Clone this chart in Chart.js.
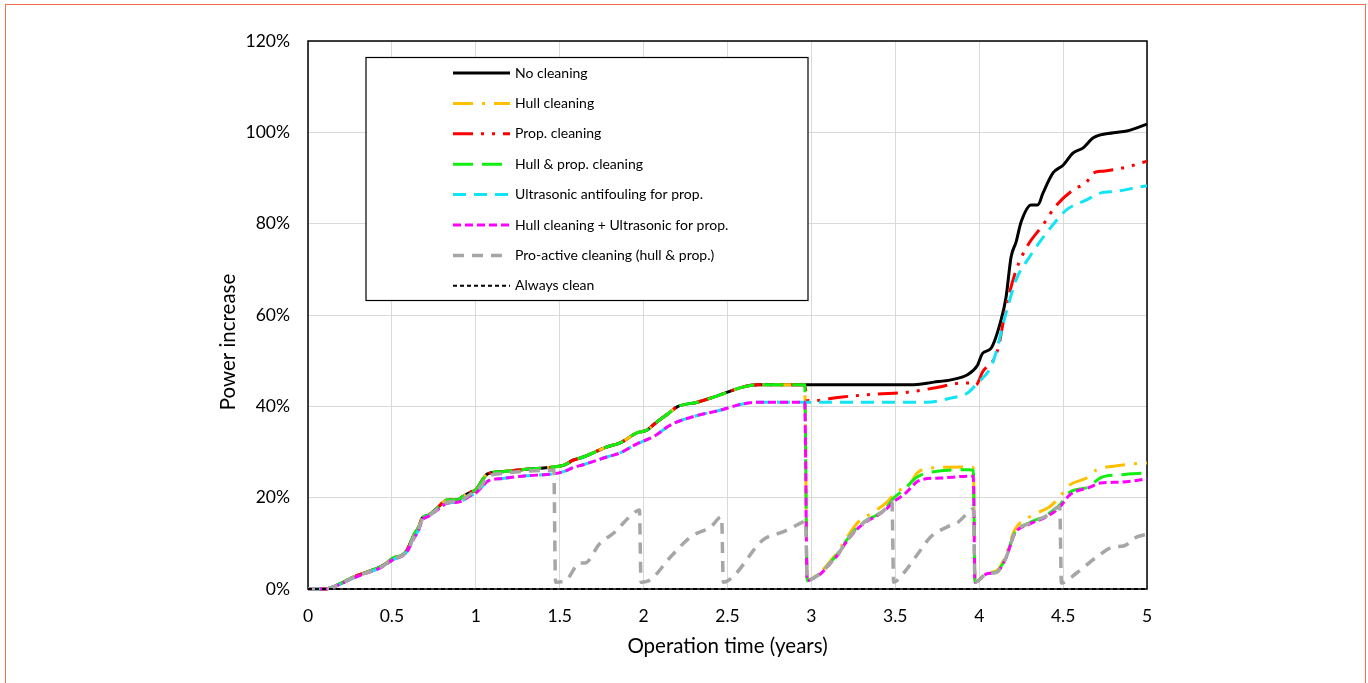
<!DOCTYPE html>
<html>
<head>
<meta charset="utf-8">
<script src="https://cdn.jsdelivr.net/npm/chart.js@4.4.1/dist/chart.umd.min.js"></script>
<style>
  html, body { margin: 0; padding: 0; background: #fff; overflow: hidden; }
  #wrap { position: relative; width: 1368px; height: 683px; }
  #frame { position: absolute; left: 5px; top: 4px; width: 1361px; height: 700px; border: 1.5px solid #f0704f; box-sizing: border-box; }
  canvas { position: absolute; left: 0; top: 0; }
</style>
</head>
<body>
<div id="wrap"><div id="frame"></div><canvas id="chart" width="1368" height="683"></canvas></div>
<script>
// tick labels
const xTickLabels = ['0', '0.5', '1', '1.5', '2', '2.5', '3', '3.5', '4', '4.5', '5'];
const yTickLabels = ['0%', '20%', '40%', '60%', '80%', '100%', '120%'];

const seriesNames = [
    'No cleaning', 'Hull cleaning', 'Prop. cleaning', 'Hull & prop. cleaning',
    'Ultrasonic antifouling for prop.', 'Hull cleaning + Ultrasonic for prop.',
    'Pro-active cleaning (hull & prop.)', 'Always clean'
];

// common growth up to the 3 year cleaning (years / % power increase)
const growthT = [0, 0.1, 0.19, 0.27, 0.35, 0.44, 0.51, 0.56, 0.59, 0.63, 0.66, 0.68, 0.72, 0.77, 0.83, 0.89, 0.92, 0.97, 1.0, 1.04,
    1.07, 1.16, 1.3, 1.46, 1.53, 1.58, 1.64, 1.78, 1.86, 1.96, 2.02, 2.07, 2.15, 2.2, 2.32, 2.44, 2.59, 2.68, 2.96];
const growthV = [0, 0, 1.1, 2.6, 3.7, 5.0, 6.8, 7.4, 8.5, 11.8, 13.6, 15.5, 16.2, 17.7, 19.5, 19.5, 20.2, 21.2, 21.7, 23.9,
    25.2, 25.7, 26.2, 26.7, 27.2, 28.2, 28.9, 31.1, 32.0, 34.2, 34.8, 36.3, 38.5, 39.9, 40.9, 42.3, 44.2, 44.7, 44.7];
// same times, with ultrasonic on the propeller
const ultraV = [0, 0, 1.0, 2.4, 3.5, 4.8, 6.5, 7.2, 8.2, 11.0, 13.0, 15.0, 16.0, 17.3, 18.8, 19.0, 19.3, 20.5, 21.0, 22.5,
    23.6, 24.2, 24.8, 25.2, 25.8, 26.6, 27.2, 28.9, 29.8, 31.8, 32.7, 33.6, 35.7, 36.6, 38.0, 39.0, 40.5, 40.9, 40.9];

// after 3 years
const noCleanT = [3.59, 3.73, 3.83, 3.93, 3.99, 4.02, 4.07, 4.13, 4.16, 4.19, 4.22, 4.25, 4.31, 4.35, 4.38, 4.44, 4.5, 4.56, 4.62, 4.68, 4.8, 4.88, 5.0];
const noCleanV = [44.7, 45.3, 45.8, 46.9, 49.0, 51.6, 52.7, 58.9, 63.9, 72.7, 76.0, 80.4, 84.1, 84.1, 86.7, 91.1, 92.8, 95.5, 96.6, 98.8, 99.9, 100.3, 101.8];

const hullT = [2.975, 3.01, 3.06, 3.11, 3.16, 3.21, 3.28, 3.36, 3.45, 3.5, 3.59, 3.63, 3.71, 3.94, 3.965, 3.975, 4.05, 4.1, 4.16, 4.21,
    4.32, 4.42, 4.48, 4.54, 4.64, 4.7, 4.8, 4.92, 5.0];
const hullV = [1.8, 2.5, 3.9, 6.0, 8.3, 11.2, 14.7, 16.6, 19.0, 21.0, 23.2, 25.4, 26.5, 26.7, 26.6, 1.5, 3.6, 3.9, 7.5, 12.8,
    16.2, 18.0, 20.2, 22.8, 24.3, 26.1, 26.9, 27.4, 27.6];

const propT = [2.975, 3.0, 3.17, 3.39, 3.55, 3.73, 3.9, 3.96, 3.98, 4.02, 4.11, 4.16, 4.22, 4.29, 4.38, 4.45, 4.56, 4.64, 4.68, 4.74, 4.88, 5.0];
const propV = [41.4, 41.2, 42.0, 42.7, 43.0, 44.0, 45.1, 45.1, 44.7, 47.5, 52.3, 61.7, 69.8, 75.3, 79.7, 83.6, 87.4, 89.1, 91.1, 91.5, 92.4, 93.7];

const bothT = [2.975, 3.01, 3.06, 3.11, 3.16, 3.21, 3.27, 3.33, 3.39, 3.45, 3.49, 3.55, 3.63, 3.71, 3.94, 3.965, 3.975, 4.05, 4.1, 4.16,
    4.21, 4.3, 4.4, 4.48, 4.54, 4.65, 4.72, 4.84, 5.0];
const bothV = [1.8, 2.4, 3.7, 5.7, 7.9, 10.7, 13.4, 15.1, 16.2, 18.0, 19.9, 21.7, 24.5, 25.6, 26.1, 26.0, 1.5, 3.5, 3.7, 7.0,
    12.2, 14.5, 16.2, 18.4, 21.2, 22.3, 24.3, 25.0, 25.4];

const ultraLateT = [3.0, 3.69, 3.83, 3.93, 3.98, 4.08, 4.16, 4.22, 4.3, 4.4, 4.52, 4.64, 4.72, 4.82, 4.95, 5.0];
const ultraLateV = [40.9, 40.9, 41.8, 42.9, 44.7, 49.5, 60.4, 67.7, 72.7, 77.9, 83.0, 85.2, 86.7, 87.1, 88.0, 88.3];

const hullUltraT = [2.975, 3.01, 3.06, 3.11, 3.16, 3.21, 3.27, 3.33, 3.39, 3.45, 3.49, 3.55, 3.65, 3.77, 3.94, 3.965, 3.975, 4.05, 4.1, 4.16,
    4.21, 4.3, 4.4, 4.48, 4.54, 4.66, 4.72, 4.84, 5.0];
const hullUltraV = [1.8, 2.3, 3.5, 5.5, 7.6, 10.4, 13.0, 14.8, 16.0, 17.6, 19.1, 20.6, 23.9, 24.3, 24.7, 24.7, 1.5, 3.4, 3.6, 6.8,
    12.0, 14.2, 15.8, 17.9, 20.6, 22.3, 23.2, 23.4, 24.1];

// pro-active: cleaned every half year from 1.5 years
const proT = [0, 0.1, 0.19, 0.27, 0.35, 0.44, 0.51, 0.56, 0.59, 0.63, 0.66, 0.68, 0.72, 0.77, 0.83, 0.89, 0.92, 0.97, 1.0, 1.04,
    1.07, 1.16, 1.3, 1.465, 1.475, 1.54, 1.62, 1.65, 1.74, 1.82, 1.94, 1.975, 1.985, 2.04, 2.16, 2.28, 2.4, 2.465, 2.475, 2.53,
    2.71, 2.83, 2.95, 2.965, 2.975, 3.01, 3.06, 3.11, 3.16, 3.21, 3.27, 3.33, 3.39, 3.45, 3.48, 3.49, 3.55, 3.65, 3.71, 3.81,
    3.87, 3.95, 3.965, 3.975, 4.05, 4.1, 4.16, 4.21, 4.3, 4.4, 4.48, 4.49, 4.58, 4.7, 4.8, 4.86, 4.94, 5.0];
const proV = [0, 0, 1.0, 2.5, 3.6, 4.9, 6.6, 7.3, 8.3, 11.3, 13.2, 15.2, 16.0, 17.5, 19.0, 19.2, 19.6, 20.8, 21.3, 23.0,
    24.5, 25.3, 25.8, 26.0, 1.5, 2.0, 5.7, 5.7, 10.0, 12.2, 16.6, 17.3, 1.5, 2.0, 7.0, 11.4, 13.6, 15.8, 1.5, 2.6,
    10.7, 12.5, 14.7, 15.0, 1.8, 2.3, 3.6, 5.6, 7.7, 10.5, 13.2, 15.0, 16.1, 17.8, 19.1, 1.5, 3.5, 8.5, 11.4, 13.6,
    14.5, 17.3, 17.6, 1.5, 3.4, 3.6, 6.9, 12.1, 14.4, 16.0, 18.0, 1.3, 3.5, 7.0, 9.2, 9.4, 11.4, 12.0];

const cleanT = [0, 5];
const cleanV = [0, 0];

const pts = (ts, vs) => ts.map((t, i) => ({ x: t, y: vs[i] }));
const growth = pts(growthT, growthV);
const ultra = pts(growthT, ultraV);

function line(i, data, color, dash, width, order) {
    return {
        label: seriesNames[i], data: data, borderColor: color, backgroundColor: color,
        borderDash: dash, borderWidth: width, order: order,
        pointRadius: 0, fill: false, cubicInterpolationMode: 'monotone', clip: 4
    };
}

const datasets = [
    line(0, growth.concat(pts(noCleanT, noCleanV)), '#000000', [], 3, 7),
    line(1, growth.concat(pts(hullT, hullV)), '#ffc000', [20, 9, 3, 9], 3, 6),
    line(2, growth.concat(pts(propT, propV)), '#ff0000', [20, 8, 3, 8, 3, 8], 3, 5),
    line(3, growth.concat(pts(bothT, bothV)), '#11ee11', [20, 9], 3, 4),
    line(4, ultra.concat(pts(ultraLateT, ultraLateV)), '#11e4f4', [13, 8], 3, 3),
    line(5, ultra.concat(pts(hullUltraT, hullUltraV)), '#ff00ff', [8, 4], 3, 2),
    line(6, pts(proT, proV), '#a6a6a6', [11, 8], 3.5, 1),
    line(7, pts(cleanT, cleanV), '#000000', [4, 3], 2, 0)
];

const framePlugin = {
    id: 'frame',
    beforeDatasetsDraw(chart) {
        const { ctx, chartArea: a } = chart;
        ctx.save();
        ctx.strokeStyle = '#000';
        ctx.lineWidth = 1.5;
        ctx.strokeRect(a.left, a.top, a.right - a.left, a.bottom - a.top);
        ctx.restore();
    },
    afterDraw(chart) {
        const { ctx, chartArea: a } = chart;
        ctx.save();
        // y axis title
        ctx.translate(228, 342);
        ctx.rotate(-Math.PI / 2);
        ctx.fillStyle = '#000';
        ctx.font = '20.5px Lato';
        ctx.textAlign = 'center';
        ctx.textBaseline = 'middle';
        ctx.fillText('Power increase', 0, 0);
        ctx.restore();

        // legend box
        const bx = a.left + 58, by = a.top + 16.5, bw = 442, bh = 243;
        ctx.save();
        ctx.fillStyle = '#fff';
        ctx.fillRect(bx, by, bw, bh);
        ctx.strokeStyle = '#000';
        ctx.lineWidth = 1.2;
        ctx.strokeRect(bx, by, bw, bh);
        chart.data.datasets.forEach((ds, i) => {
            const y = by + 15.5 + i * 30.4;
            ctx.beginPath();
            ctx.setLineDash(ds.borderDash);
            ctx.strokeStyle = ds.borderColor;
            ctx.lineWidth = ds.borderWidth;
            ctx.moveTo(bx + 87, y);
            ctx.lineTo(bx + 144, y);
            ctx.stroke();
            ctx.setLineDash([]);
            ctx.fillStyle = '#000';
            ctx.font = '14px Lato';
            ctx.textAlign = 'left';
            ctx.textBaseline = 'middle';
            ctx.fillText(ds.label, bx + 149, y);
        });
        ctx.restore();
    }
};

Chart.defaults.font.family = "Lato, 'Liberation Sans', sans-serif";

new Chart(document.getElementById('chart').getContext('2d'), {
    type: 'line',
    data: { datasets: datasets },
    options: {
        responsive: false,
        animation: false,
        layout: { padding: { left: 0, top: 41, right: 221, bottom: 0 } },
        plugins: { legend: { display: false }, tooltip: { enabled: false } },
        scales: {
            x: {
                type: 'linear', min: 0, max: 5,
                ticks: {
                    stepSize: 0.5, autoSkip: false, maxRotation: 0, padding: 17, color: '#000',
                    font: { size: 17.5 }, callback: (v, i) => xTickLabels[i]
                },
                grid: { color: '#d9d9d9', lineWidth: 1, drawTicks: false },
                border: { display: false },
                title: { display: true, text: 'Operation time (years)', color: '#000', font: { size: 20.5 }, padding: { top: 0, bottom: 24.5 } },
                afterFit: s => { s.height = 94; }
            },
            y: {
                min: 0, max: 120,
                ticks: {
                    stepSize: 20, padding: 18, color: '#000',
                    font: { size: 17.5 }, callback: (v, i) => yTickLabels[i]
                },
                grid: { color: '#d9d9d9', lineWidth: 1, drawTicks: false },
                border: { display: false },
                afterFit: s => { s.width = 308; }
            }
        }
    },
    plugins: [framePlugin]
});
</script>
</body>
</html>
